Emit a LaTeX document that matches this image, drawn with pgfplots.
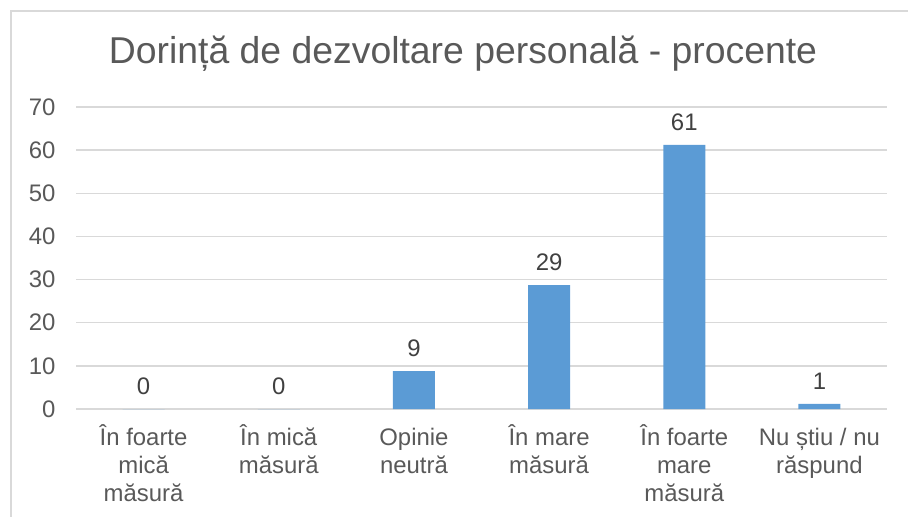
\documentclass[border=0pt]{standalone}
\usepackage{pgfplots}
\pgfplotsset{compat=1.18}
\usepackage{fontspec}
\setmainfont{Liberation Sans}
\definecolor{barblue}{HTML}{5B9BD5}
\definecolor{txtgray}{HTML}{595959}
\definecolor{lblgray}{HTML}{404040}
\definecolor{gridgray}{HTML}{D9D9D9}
\begin{document}
\begin{tikzpicture}
\useasboundingbox (0,0) rectangle (908bp,517bp);
\draw[gridgray, line width=1.3bp] (11bp,0bp) -- (11bp,506bp) -- (908bp,506bp);
\node[txtgray, font=\fontsize{37.5}{42}\selectfont] at (463bp,463bp) {Dorință de dezvoltare personală - procente};
\begin{axis}[
  at={(76bp,108bp)}, anchor=south west,
  scale only axis, width=811bp, height=302bp,
  xmin=-0.5, xmax=5.5, ymin=0, ymax=70,
  ytick={0,10,...,70},
  xtick=data,
  xticklabels={{\vphantom{Î}În foarte\\mică\\măsură},{\vphantom{Î}În mică\\măsură},{\vphantom{Î}Opinie\\neutră},{\vphantom{Î}În mare\\măsură},{\vphantom{Î}În foarte\\mare\\măsură},{\vphantom{Î}Nu știu / nu\\răspund}},
  axis line style={draw=none},
  axis x line*=bottom,
  axis y line*=left,
  major tick length=0pt,
  ymajorgrids, grid style={gridgray, line width=1.3bp},
  tick label style={txtgray, font=\fontsize{24}{28}\selectfont},
  xticklabel style={align=center, anchor=north, yshift=-12bp},
  yticklabel style={anchor=east, xshift=-17bp},
  /pgf/number format/assume math mode=true,
  ybar, bar width=42bp,
  nodes near coords={\pgfmathprintnumber[fixed,precision=0]{\pgfplotspointmeta}},
  nodes near coords style={lblgray, font=\fontsize{24}{28}\selectfont, yshift=11bp},
  clip=false,
]
\draw[gridgray, line width=1.3bp] (axis cs:-0.5,0) -- (axis cs:5.5,0);
\addplot[fill=barblue, draw=none] coordinates {(0,0) (1,0) (2,8.8) (3,28.7) (4,61.2) (5,1.2)};
\end{axis}
\end{tikzpicture}
\end{document}
